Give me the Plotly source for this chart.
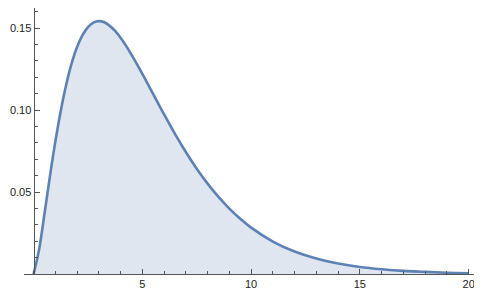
import plotly.graph_objects as go

# values
x_vals = [0, 0.25, 0.5, 0.75, 1, 1.25, 1.5, 1.75, 2, 2.25, 2.5, 2.75, 3, 3.25,
          3.5, 3.75, 4, 4.5, 5, 5.5, 6, 6.5, 7, 7.5, 8, 8.5, 9, 9.5, 10, 11,
          12, 13, 14, 15, 16, 17, 18, 19, 20]
y_vals = [0, 0.0147, 0.0366, 0.0594, 0.0807, 0.0994, 0.1154, 0.1284, 0.1384,
          0.1456, 0.1506, 0.1533, 0.1542, 0.1535, 0.1513, 0.1482, 0.1440,
          0.1338, 0.1220, 0.1097, 0.0973, 0.0855, 0.0744, 0.0642, 0.0551,
          0.0470, 0.0399, 0.0337, 0.0283, 0.0198, 0.0137, 0.0094, 0.0064,
          0.0043, 0.0029, 0.0019, 0.0013, 0.0008, 0.0005]

x_ticks = [5, 10, 15, 20]
y_ticks = [0.05, 0.10, 0.15]
y_labels = ["0.05", "0.10", "0.15"]

line_col = "#5E81B5"
axis_col = "#555555"
x_min, x_max = -0.44, 20.43

# page body has an 8px margin, so the figure is sized to the visible area
fig = go.Figure()
fig.add_trace(
    go.Scatter(
        x=x_vals,
        y=y_vals,
        mode="lines",
        line=dict(color=line_col, width=2.6, shape="spline", smoothing=1),
        fill="tozeroy",
        fillcolor="rgba(94,129,181,0.2)",
        showlegend=False,
    )
)

fig.update_layout(
    width=474,
    height=288,
    margin=dict(l=16, r=4, t=0, b=22),
    paper_bgcolor="white",
    plot_bgcolor="white",
    font=dict(family="Liberation Sans", size=11, color="#222222"),
    xaxis=dict(
        range=[x_min, x_max],
        automargin=False,
        showgrid=False,
        zeroline=False,
        showline=True,
        linecolor=axis_col,
        linewidth=1,
        tickvals=x_ticks,
        ticks="inside",
        ticklen=5,
        tickcolor=axis_col,
        minor=dict(dtick=1, tick0=0, ticks="inside", ticklen=3, tickcolor=axis_col),
    ),
    yaxis=dict(
        range=[0, 0.1622],
        automargin=False,
        anchor="free",
        position=(0 - x_min) / (x_max - x_min),
        showgrid=False,
        zeroline=False,
        showline=True,
        linecolor=axis_col,
        linewidth=1,
        tickvals=y_ticks,
        ticktext=y_labels,
        ticks="inside",
        ticklen=5,
        tickcolor=axis_col,
        minor=dict(dtick=0.01, tick0=0, ticks="inside", ticklen=3, tickcolor=axis_col),
    ),
)

fig.write_html("out.html")
